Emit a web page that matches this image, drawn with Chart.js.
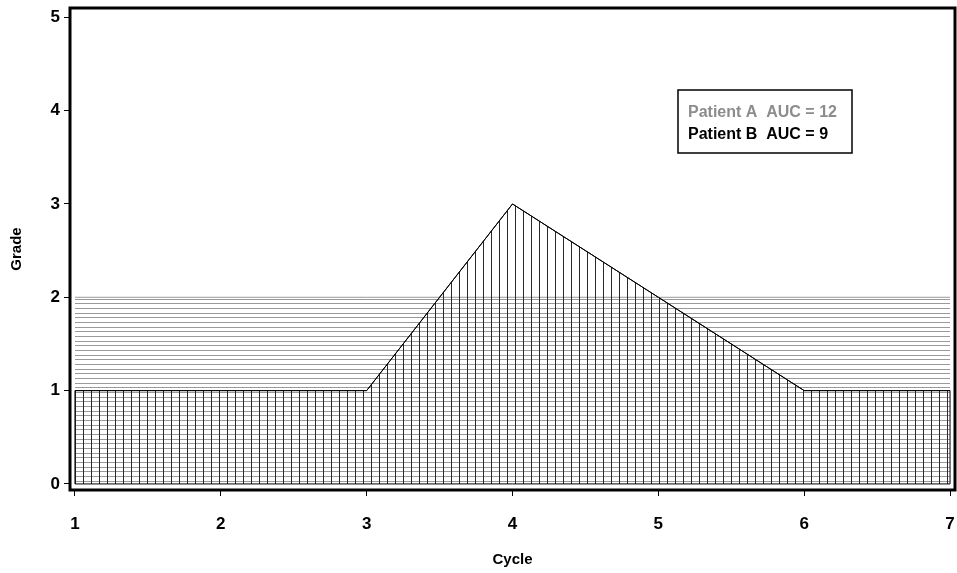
<!DOCTYPE html>
<html>
<head>
<meta charset="utf-8">
<script src="https://cdn.jsdelivr.net/npm/chart.js@4.4.1/dist/chart.umd.min.js"></script>
<style>
html,body{margin:0;padding:0;background:#fff;}
#wrap{width:957px;height:573px;position:relative;}
</style>
</head>
<body>
<div id="wrap"><canvas id="c" width="957" height="573"></canvas></div>
<script>
const cycles = [1, 2, 3, 4, 5, 6, 7];
const patientA = [2, 2, 2, 2, 2, 2, 2];
const patientB = [1, 1, 1, 3, 2, 1, 1];
const xTicks = [1, 2, 3, 4, 5, 6, 7];
const yTicks = [0, 1, 2, 3, 4, 5];
const legendLabels = ['Patient A  AUC = 12', 'Patient B  AUC = 9'];
const seriesNames = ['Patient A', 'Patient B'];

function makePattern(w, h, draw) {
  const c = document.createElement('canvas');
  c.width = w; c.height = h;
  const g = c.getContext('2d');
  draw(g);
  return document.getElementById('c').getContext('2d').createPattern(c, 'repeat');
}
const hPattern = makePattern(1, 14, g => {
  g.fillStyle = '#9a9a9a';
  g.fillRect(0, 0, 1, 1); g.fillRect(0, 5, 1, 1); g.fillRect(0, 9, 1, 1);
});
const vPattern = makePattern(8, 1, g => { g.fillStyle = '#2a2a2a'; g.fillRect(3, 0, 1, 1); });

const FONT = "'Liberation Sans', Arial, sans-serif";

const framePlugin = {
  id: 'frame',
  afterDatasetsDraw(chart) {
    const ctx = chart.ctx;
    const xs = chart.scales.x, ys = chart.scales.y;
    ctx.save();
    ctx.strokeStyle = '#000';
    ctx.lineWidth = 1;
    ctx.beginPath();
    ctx.moveTo(xs.getPixelForValue(cycles[0]), ys.getPixelForValue(0));
    cycles.forEach((c, i) => ctx.lineTo(xs.getPixelForValue(c), ys.getPixelForValue(patientB[i])));
    ctx.lineTo(xs.getPixelForValue(cycles[cycles.length - 1]), ys.getPixelForValue(0));
    ctx.closePath();
    ctx.stroke();
    ctx.restore();
  },
  afterDraw(chart) {
    const ctx = chart.ctx;
    const a = chart.chartArea;
    ctx.save();
    ctx.strokeStyle = '#000';
    ctx.lineWidth = 3;
    ctx.strokeRect(a.left, a.top, a.right - a.left, a.bottom - a.top);
    const bx = 678, by = 90, bw = 174, bh = 63;
    ctx.lineWidth = 1.5;
    ctx.fillStyle = '#fff';
    ctx.fillRect(bx, by, bw, bh);
    ctx.strokeRect(bx, by, bw, bh);
    ctx.font = "bold 16px " + FONT;
    ctx.textBaseline = 'alphabetic';
    ctx.textAlign = 'left';
    ctx.fillStyle = '#8c8c8c';
    ctx.fillText(legendLabels[0], 688, 117);
    ctx.fillStyle = '#000';
    ctx.fillText(legendLabels[1], 688, 139);
    ctx.restore();
  }
};

new Chart(document.getElementById('c'), {
  type: 'line',
  data: {
    labels: cycles,
    datasets: [
      {
        label: seriesNames[1],
        data: cycles.map((c, i) => ({x: c, y: patientB[i]})),
        borderColor: '#000',
        borderWidth: 1,
        backgroundColor: vPattern,
        fill: 'origin',
        pointRadius: 0,
        tension: 0,
        order: 1
      },
      {
        label: seriesNames[0],
        data: cycles.map((c, i) => ({x: c, y: patientA[i]})),
        borderColor: '#9a9a9a',
        borderWidth: 1,
        backgroundColor: hPattern,
        fill: 'origin',
        pointRadius: 0,
        tension: 0,
        order: 2
      }
    ]
  },
  options: {
    responsive: false,
    animation: false,
    layout: {padding: {top: 8, right: 2, left: 0, bottom: 0}},
    plugins: {legend: {display: false}, tooltip: {enabled: false}},
    scales: {
      x: {
        type: 'linear',
        min: 0.966, max: 7.034,
        afterBuildTicks: s => { s.ticks = xTicks.map(v => ({value: v})); },
        afterFit: s => { s.height = 83; s.paddingLeft = 0; s.paddingRight = 0; },
        grid: {display: true, drawOnChartArea: false, drawTicks: true, tickLength: 6, color: '#000'},
        border: {display: false},
        ticks: {color: '#000', padding: 18, font: {family: FONT, size: 17, weight: 'bold'}, maxRotation: 0},
        title: {display: true, text: 'Cycle', color: '#000', font: {family: FONT, size: 15, weight: 'bold'}, padding: {top: 0, bottom: 4}}
      },
      y: {
        type: 'linear',
        min: -0.065, max: 5.1,
        afterBuildTicks: s => { s.ticks = yTicks.map(v => ({value: v})); },
        afterFit: s => { s.width = 70; s.paddingTop = 0; s.paddingBottom = 0; },
        grid: {display: true, drawOnChartArea: false, drawTicks: true, tickLength: 6, color: '#000'},
        border: {display: false},
        ticks: {color: '#000', padding: 4, font: {family: FONT, size: 17, weight: 'bold'}},
        title: {display: true, text: 'Grade', color: '#000', font: {family: FONT, size: 15, weight: 'bold'}, padding: {top: 8, bottom: 0}}
      }
    }
  },
  plugins: [framePlugin]
});
</script>
</body>
</html>
